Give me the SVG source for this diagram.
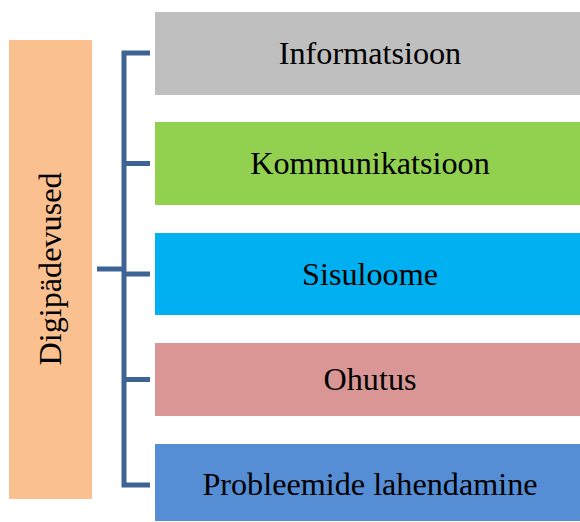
<svg xmlns="http://www.w3.org/2000/svg" width="580" height="522" viewBox="0 0 580 522">
<style>
text{font-family:"Liberation Serif","Times New Roman",serif;font-size:32.2px;fill:#000;text-anchor:middle}
.br{fill:none;stroke:#3E6496;stroke-width:5}
</style>
<rect width="580" height="522" fill="#fff"/>
<g id="root"><rect x="9" y="40" width="83" height="459" fill="#FAC090"/><text transform="translate(61,269) rotate(-90)">Digipädevused</text></g>
<g id="connectors">
<path class="br" d="M150,53H124V485H150"/>
<path class="br" d="M124,163.5H150M124,274H150M124,379.5H150M97,269H124"/>
</g>
<g id="n1"><rect x="155" y="12" width="425" height="83" fill="#BFBFBF"/><text x="370" y="64">Informatsioon</text></g>
<g id="n2"><rect x="155" y="122" width="425" height="83" fill="#92D050"/><text x="370" y="174">Kommunikatsioon</text></g>
<g id="n3"><rect x="155" y="233" width="425" height="82" fill="#00B0F0"/><text x="370" y="285">Sisuloome</text></g>
<g id="n4"><rect x="155" y="343" width="425" height="73" fill="#D99694"/><text x="370" y="390">Ohutus</text></g>
<g id="n5"><rect x="155" y="444" width="425" height="77" fill="#558ED5"/><text x="370" y="495">Probleemide lahendamine</text></g>
</svg>
